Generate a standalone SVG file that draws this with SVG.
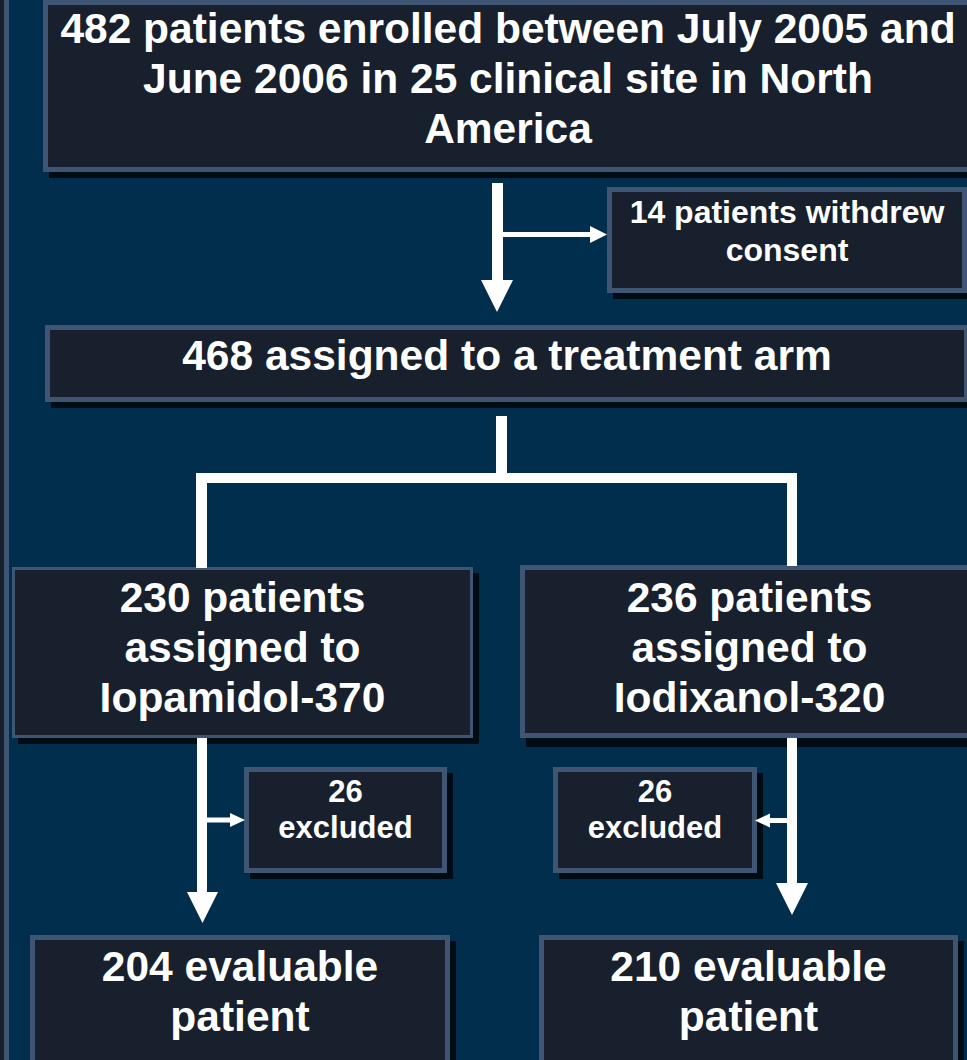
<svg xmlns="http://www.w3.org/2000/svg" width="967" height="1060" viewBox="0 0 967 1060">
<style>
.box{fill:#17202c;stroke:#3e5673;stroke-width:5}
.thin{stroke-width:3}
.sh{fill:#000c14}
.t{font-family:"Liberation Sans",Arial,sans-serif;font-weight:bold;fill:#ffffff;text-anchor:middle}
.big{font-size:42.5px}
.small{font-size:32px}
.xs{font-size:31px}
.w{fill:#ffffff}
</style>
<rect x="0" y="0" width="967" height="1060" fill="#002e4c"/>
<g id="edge-strip"><rect class="box" x="-20" y="-20" width="26.5" height="1100"/></g>
<g id="n-enrolled">
<rect class="sh" x="49" y="6" width="930" height="172"/>
<rect class="box" x="45.5" y="2.5" width="925" height="167"/>
<text class="t big" x="508" y="43">482 patients enrolled between July 2005 and</text>
<text class="t big" x="508" y="93">June 2006 in 25 clinical site in North</text>
<text class="t big" x="508" y="143">America</text>
</g>
<g id="n-withdrew">
<rect class="sh" x="613" y="193" width="360" height="106"/>
<rect class="box" x="609.5" y="189.5" width="355" height="101"/>
<text class="t small" x="787" y="223">14 patients withdrew</text>
<text class="t small" x="787" y="261">consent</text>
</g>
<g id="n-assigned">
<rect class="sh" x="51" y="331" width="924" height="77"/>
<rect class="box" x="47.5" y="327.5" width="919" height="72"/>
<text class="t big" x="507" y="370">468 assigned to a treatment arm</text>
</g>
<g id="n-iopamidol">
<rect class="sh" x="18" y="573" width="461" height="171"/>
<rect class="box thin" x="13.5" y="568.5" width="458" height="168"/>
<text class="t big" x="242.5" y="612">230 patients</text>
<text class="t big" x="242.5" y="662">assigned to</text>
<text class="t big" x="242.5" y="712">Iopamidol-370</text>
</g>
<g id="n-iodixanol">
<rect class="sh" x="526" y="571" width="459" height="176"/>
<rect class="box" x="522.5" y="567.5" width="454" height="168"/>
<text class="t big" x="749.5" y="612">236 patients</text>
<text class="t big" x="749.5" y="662">assigned to</text>
<text class="t big" x="749.5" y="712">Iodixanol-320</text>
</g>
<g id="n-excl-left">
<rect class="sh" x="250" y="773" width="203" height="106"/>
<rect class="box" x="246.5" y="769.5" width="198" height="101"/>
<text class="t xs" x="345.5" y="802">26</text>
<text class="t xs" x="345.5" y="838">excluded</text>
</g>
<g id="n-excl-right">
<rect class="sh" x="559" y="773" width="204" height="106"/>
<rect class="box" x="555.5" y="769.5" width="199" height="101"/>
<text class="t xs" x="655" y="802">26</text>
<text class="t xs" x="655" y="838">excluded</text>
</g>
<g id="n-eval-left">
<rect class="sh" x="36" y="941" width="420" height="140"/>
<rect class="box" x="32.5" y="937.5" width="415" height="140"/>
<text class="t big" x="240" y="981">204 evaluable</text>
<text class="t big" x="240" y="1031">patient</text>
</g>
<g id="n-eval-right">
<rect class="sh" x="545" y="941" width="419" height="140"/>
<rect class="box" x="541.5" y="937.5" width="414" height="140"/>
<text class="t big" x="748.5" y="981">210 evaluable</text>
<text class="t big" x="748.5" y="1031">patient</text>
</g>
<g id="connectors" class="w">
<rect x="492" y="183" width="11" height="98"/>
<polygon points="481,280 513,280 497,312"/>
<rect x="502" y="232" width="90" height="5"/>
<polygon points="590,226 607,234.5 590,243"/>
<rect x="496" y="416" width="11" height="58"/>
<rect x="196" y="473" width="601" height="10"/>
<rect x="196" y="473" width="11" height="95"/>
<rect x="787" y="473" width="10" height="93"/>
<rect x="197" y="738" width="10" height="156"/>
<polygon points="187,892 218,892 202.5,923"/>
<rect x="207" y="817.5" width="24" height="5"/>
<polygon points="230,813 245,820 230,827"/>
<rect x="787" y="738" width="10" height="147"/>
<polygon points="776,883 808,883 792,915"/>
<rect x="768" y="818" width="19" height="5"/>
<polygon points="770,813.5 755,820.5 770,827.5"/>
</g>
</svg>
